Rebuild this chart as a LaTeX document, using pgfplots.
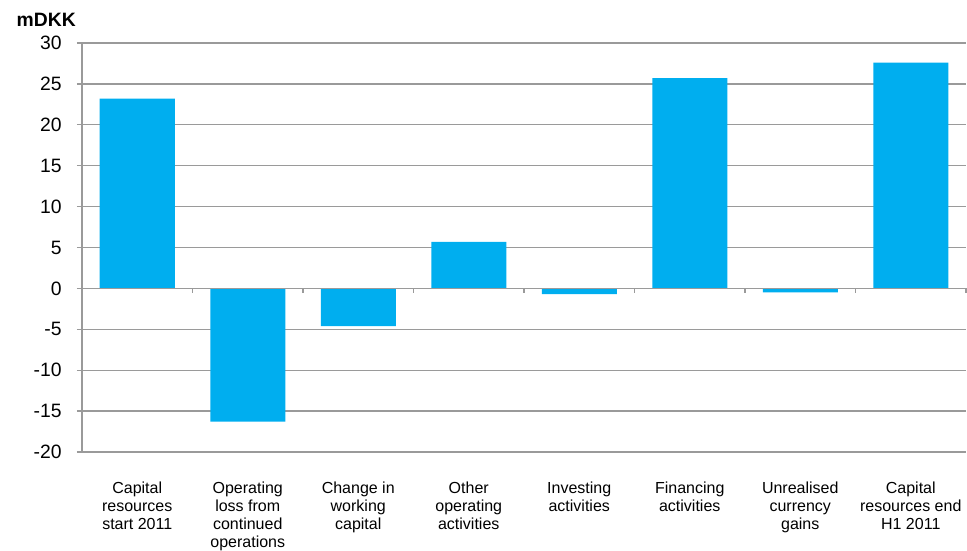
\documentclass[border=0pt]{standalone}
\usepackage{pgfplots}
\pgfplotsset{compat=1.18}
\usepackage{fontspec}
\setmainfont{Liberation Sans}
\definecolor{barblue}{HTML}{00AEEF}
\definecolor{gridgray}{HTML}{9A9A9A}
\begin{document}
\begin{tikzpicture}
\begin{axis}[
  name=ax,
  scale only axis,
  width=663pt, height=306.75pt,
  xmin=0.5, xmax=8.5,
  ymin=-20, ymax=30,
  ytick={-20,-15,...,30},
  xtick={1,...,8},
  xticklabels={{Capital\\resources\\start 2011},{Operating\\loss from\\continued\\operations},{Change in\\working\\capital},{Other\\operating\\activities},{Investing\\activities},{Financing\\activities},{Unrealised\\currency\\gains},{Capital\\resources end\\H1 2011}},
  xticklabel style={align=center, font=\fontsize{12}{13.5}\selectfont, yshift=-15pt},
  yticklabel style={font=\fontsize{14.5}{16}\selectfont, xshift=-8pt},
  /pgf/number format/assume math mode=true,
  axis x line*=bottom,
  axis y line*=left,
  x axis line style={draw=none},
  y axis line style={draw=gridgray, line width=1pt, -},
  xtick style={draw=none},
  ytick style={draw=gridgray, line width=1pt},
  tick align=outside,
  major tick length=3.75pt,
  ymajorgrids,
  grid style={draw=gridgray, line width=1pt},
  clip=false,
]
\addplot[ybar, bar width=56.25pt, bar shift=0pt, fill=barblue, draw=none]
  coordinates {(1,23.2) (2,-16.3) (3,-4.6) (4,5.7) (5,-0.7) (6,25.7) (7,-0.5) (8,27.6)};
\draw[gridgray, line width=1pt] (axis cs:0.5,0) -- (axis cs:8.5,0);
\draw[gridgray, line width=1pt] (axis cs:1.5,0) -- ([yshift=-3.75pt]axis cs:1.5,0);
\draw[gridgray, line width=1pt] (axis cs:2.5,0) -- ([yshift=-3.75pt]axis cs:2.5,0);
\draw[gridgray, line width=1pt] (axis cs:3.5,0) -- ([yshift=-3.75pt]axis cs:3.5,0);
\draw[gridgray, line width=1pt] (axis cs:4.5,0) -- ([yshift=-3.75pt]axis cs:4.5,0);
\draw[gridgray, line width=1pt] (axis cs:5.5,0) -- ([yshift=-3.75pt]axis cs:5.5,0);
\draw[gridgray, line width=1pt] (axis cs:6.5,0) -- ([yshift=-3.75pt]axis cs:6.5,0);
\draw[gridgray, line width=1pt] (axis cs:7.5,0) -- ([yshift=-3.75pt]axis cs:7.5,0);
\draw[gridgray, line width=1pt] (axis cs:8.5,0) -- ([yshift=-3.75pt]axis cs:8.5,0);
\node[anchor=base east, inner sep=0pt, font=\bfseries\fontsize{14.5}{16}\selectfont] at ([xshift=-4.5pt, yshift=12pt]rel axis cs:0,1) {mDKK};
\end{axis}
\pgfresetboundingbox
\path[use as bounding box] ([xshift=-61.5pt,yshift=-74.25pt]ax.south west) rectangle ([xshift=0.75pt,yshift=32.25pt]ax.north east);
\end{tikzpicture}
\end{document}
